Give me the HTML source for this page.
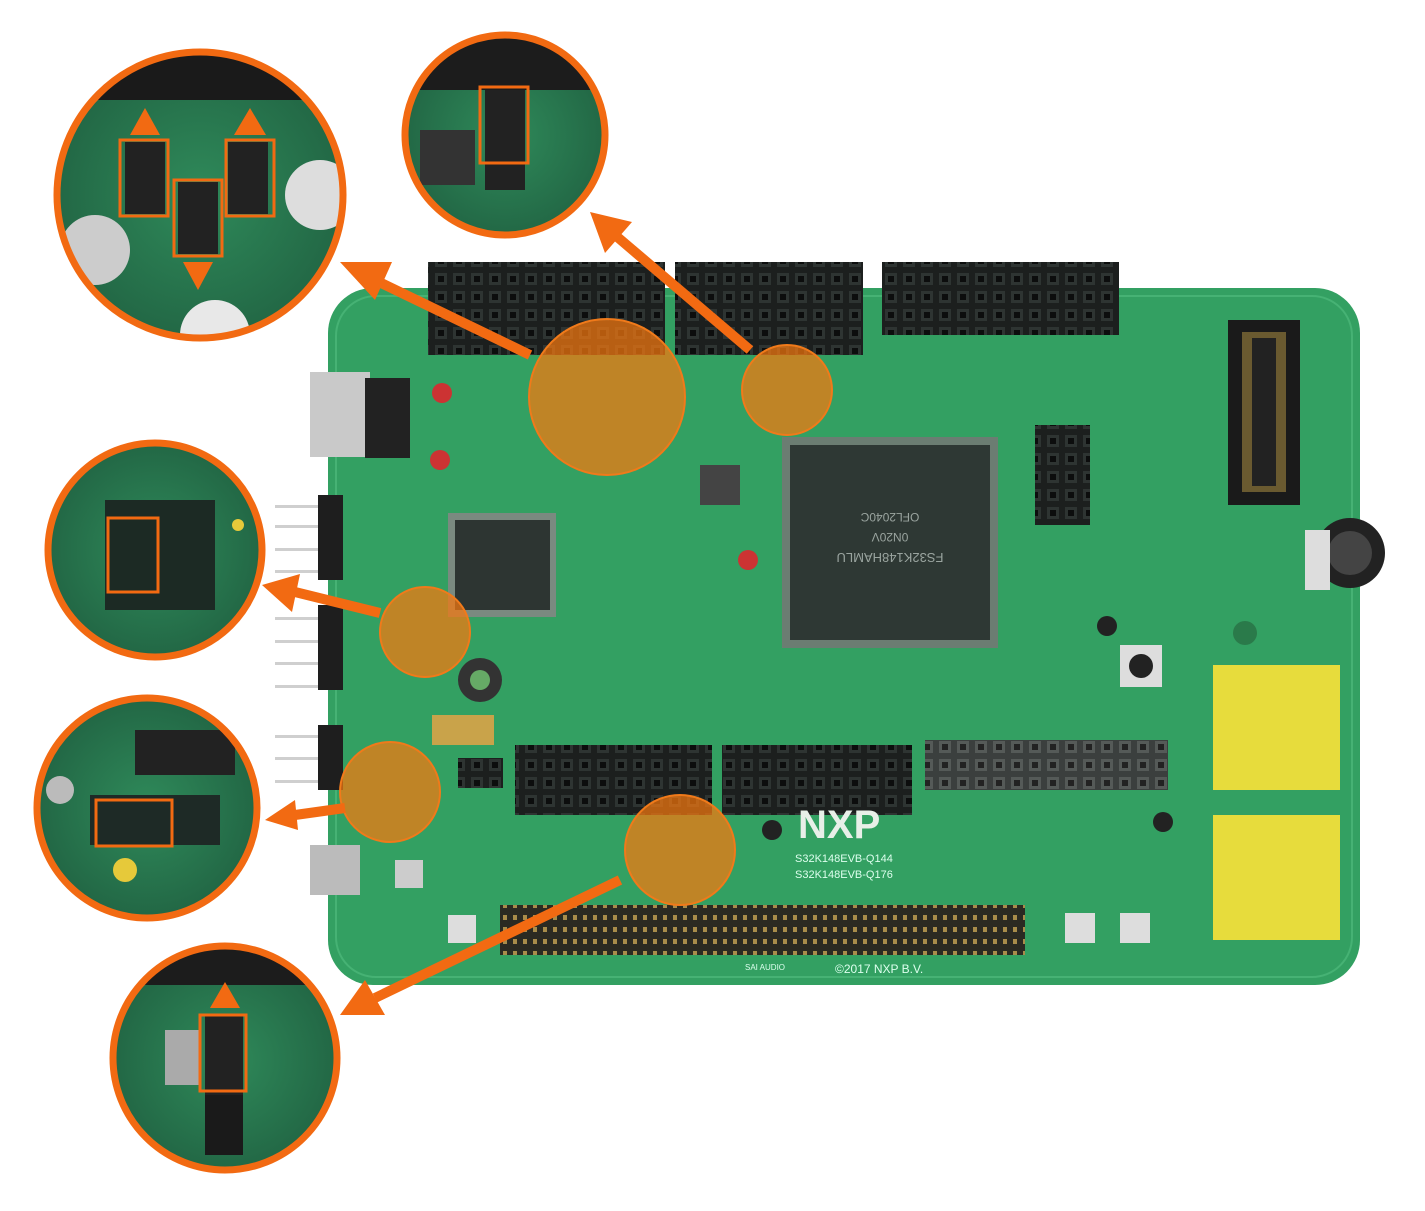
<!DOCTYPE html>
<html><head><meta charset="utf-8"><style>
html,body{margin:0;padding:0;background:#fff;}
svg{display:block;}
text{font-family:"Liberation Sans",sans-serif;}
</style></head><body>
<svg width="1425" height="1211" viewBox="0 0 1425 1211" xmlns="http://www.w3.org/2000/svg">
<defs>
<pattern id="pins" width="18" height="18" patternUnits="userSpaceOnUse">
<rect width="18" height="18" fill="#1c1f1e"/><rect x="3" y="3" width="12" height="12" fill="#2e3432"/><rect x="6" y="6" width="6" height="6" fill="#0c0d0d"/></pattern>
<pattern id="gpins" width="18" height="18" patternUnits="userSpaceOnUse">
<rect width="18" height="18" fill="#3b3f3e"/><rect x="3" y="3" width="12" height="12" fill="#555a58"/><rect x="6" y="6" width="6" height="6" fill="#222"/></pattern>
<pattern id="hdr" width="10" height="24" patternUnits="userSpaceOnUse">
<rect width="10" height="24" fill="#2b2a22"/><rect x="3" y="3" width="4" height="5" fill="#a88c4a"/><rect x="3" y="15" width="4" height="5" fill="#a88c4a"/></pattern>
<radialGradient id="zg" cx="50%" cy="50%" r="60%"><stop offset="0" stop-color="#2f8a5a"/><stop offset="1" stop-color="#1f5f40"/></radialGradient>
<clipPath id="c1"><circle cx="200" cy="195" r="143"/></clipPath>
<clipPath id="c2"><circle cx="505" cy="135" r="100"/></clipPath>
<clipPath id="c3"><circle cx="155" cy="550" r="107"/></clipPath>
<clipPath id="c4"><circle cx="147" cy="808" r="110"/></clipPath>
<clipPath id="c5"><circle cx="225" cy="1058" r="112"/></clipPath>
</defs>

<rect x="328" y="288" width="1032" height="697" rx="45" fill="#33a062"/>
<rect x="336" y="296" width="1016" height="681" rx="40" fill="none" stroke="#46b274" stroke-width="2"/>
<rect x="428" y="262" width="237" height="93" fill="url(#pins)"/>
<rect x="675" y="262" width="188" height="93" fill="url(#pins)"/>
<rect x="882" y="262" width="237" height="73" fill="url(#pins)"/>
<rect x="515" y="745" width="197" height="70" fill="url(#pins)"/>
<rect x="722" y="745" width="190" height="70" fill="url(#pins)"/>
<rect x="925" y="740" width="243" height="50" fill="url(#gpins)"/>
<rect x="500" y="905" width="525" height="50" fill="url(#hdr)"/>
<rect x="782" y="437" width="216" height="211" fill="#6b7d72"/>
<rect x="790" y="445" width="200" height="195" fill="#2e3834"/>
<g transform="rotate(180 890 525)" fill="#9aa49f" text-anchor="middle">
<text x="890" y="497" font-size="13">FS32K148HAMLU</text>
<text x="890" y="517" font-size="12">0N20V</text>
<text x="890" y="537" font-size="12">OFL2040C</text></g>
<rect x="448" y="513" width="108" height="104" fill="#7a8a80"/>
<rect x="455" y="520" width="95" height="90" fill="#2d3532"/>
<rect x="1228" y="320" width="72" height="185" fill="#1a1a1a"/>
<rect x="1242" y="332" width="44" height="160" fill="#6a5a30"/>
<rect x="1252" y="338" width="24" height="148" fill="#222"/>
<rect x="1035" y="425" width="55" height="100" fill="url(#pins)"/>
<circle cx="1350" cy="553" r="35" fill="#222"/><circle cx="1350" cy="553" r="22" fill="#444"/>
<rect x="1305" y="530" width="25" height="60" fill="#ddd"/>
<rect x="1213" y="665" width="127" height="125" fill="#e7dc3c"/>
<rect x="1213" y="815" width="127" height="125" fill="#e7dc3c"/>
<rect x="1120" y="645" width="42" height="42" fill="#ddd"/><circle cx="1141" cy="666" r="12" fill="#222"/>
<rect x="700" y="465" width="40" height="40" fill="#444"/>
<circle cx="480" cy="680" r="22" fill="#333"/><circle cx="480" cy="680" r="10" fill="#6a6"/>
<rect x="395" y="860" width="28" height="28" fill="#ccc"/><rect x="448" y="915" width="28" height="28" fill="#ddd"/>
<rect x="1065" y="913" width="30" height="30" fill="#ddd"/><rect x="1120" y="913" width="30" height="30" fill="#ddd"/>
<rect x="432" y="715" width="62" height="30" fill="#c9a34a"/>
<rect x="458" y="758" width="45" height="30" fill="url(#pins)"/>
<circle cx="440" cy="460" r="10" fill="#c33"/><circle cx="442" cy="393" r="10" fill="#c33"/>
<circle cx="748" cy="560" r="10" fill="#c33"/>
<circle cx="1107" cy="626" r="10" fill="#222"/><circle cx="1163" cy="822" r="10" fill="#222"/><circle cx="772" cy="830" r="10" fill="#222"/>
<circle cx="1245" cy="633" r="12" fill="#2a7a4a"/>
<rect x="310" y="372" width="60" height="85" fill="#c9c9c9"/>
<rect x="365" y="378" width="45" height="80" fill="#222"/>
<rect x="310" y="845" width="50" height="50" fill="#bbb"/>
<g fill="#cfcfcf">
<rect x="275" y="505" width="45" height="3"/><rect x="275" y="525" width="45" height="3"/><rect x="275" y="548" width="45" height="3"/><rect x="275" y="570" width="45" height="3"/>
<rect x="275" y="617" width="45" height="3"/><rect x="275" y="640" width="45" height="3"/><rect x="275" y="662" width="45" height="3"/><rect x="275" y="685" width="45" height="3"/>
<rect x="275" y="735" width="45" height="3"/><rect x="275" y="757" width="45" height="3"/><rect x="275" y="780" width="45" height="3"/></g>
<rect x="318" y="495" width="25" height="85" fill="#1e1e1e"/>
<rect x="318" y="605" width="25" height="85" fill="#1e1e1e"/>
<rect x="318" y="725" width="25" height="65" fill="#1e1e1e"/>
<text x="798" y="838" fill="#e8efe8" font-size="40" font-weight="bold">NXP</text>
<text x="795" y="862" fill="#dfe" font-size="11">S32K148EVB-Q144</text>
<text x="795" y="878" fill="#dfe" font-size="11">S32K148EVB-Q176</text>
<text x="835" y="973" fill="#dfe" font-size="12">©2017 NXP B.V.</text>
<text x="745" y="970" fill="#dfe" font-size="8">SAI AUDIO</text>

<g fill="#f5780f" fill-opacity="0.72" stroke="#f07a1a" stroke-width="2">
<circle cx="607" cy="397" r="78"/><circle cx="787" cy="390" r="45"/><circle cx="425" cy="632" r="45"/>
<circle cx="390" cy="792" r="50"/><circle cx="680" cy="850" r="55"/></g>

<g stroke="#f26a12" stroke-width="10" fill="#f26a12">
<line x1="530" y1="355" x2="375" y2="280"/><line x1="750" y1="350" x2="615" y2="235"/>
<line x1="380" y1="613" x2="295" y2="592"/><line x1="345" y1="808" x2="295" y2="815"/>
<line x1="620" y1="880" x2="375" y2="998"/></g>
<g fill="#f26a12">
<polygon points="340,262 392,262 375,300"/>
<polygon points="590,212 632,222 605,253"/>
<polygon points="262,585 300,574 292,612"/>
<polygon points="265,820 295,800 298,830"/>
<polygon points="340,1015 365,980 385,1015"/></g>

<g clip-path="url(#c1)"><rect x="50" y="45" width="300" height="300" fill="url(#zg)"/>
<rect x="50" y="50" width="300" height="50" fill="#1a1a1a"/>
<circle cx="320" cy="195" r="35" fill="#ddd"/><circle cx="95" cy="250" r="35" fill="#ccc"/><circle cx="215" cy="335" r="35" fill="#e8e8e8"/>
<rect x="125" y="142" width="40" height="72" fill="#222"/><rect x="178" y="182" width="40" height="72" fill="#222"/><rect x="228" y="142" width="40" height="72" fill="#222"/></g>
<g fill="none" stroke="#f26a12" stroke-width="3"><rect x="120" y="140" width="48" height="76"/><rect x="174" y="180" width="48" height="76"/><rect x="226" y="140" width="48" height="76"/></g>
<g fill="#f26a12"><polygon points="130,135 160,135 145,108"/><polygon points="234,135 266,135 250,108"/><polygon points="183,262 213,262 198,290"/></g>
<circle cx="200" cy="195" r="143" fill="none" stroke="#f26a12" stroke-width="7"/>

<g clip-path="url(#c2)"><rect x="400" y="30" width="210" height="210" fill="url(#zg)"/>
<rect x="400" y="30" width="210" height="60" fill="#1c1c1c"/><rect x="420" y="130" width="55" height="55" fill="#333"/>
<rect x="485" y="90" width="40" height="100" fill="#222"/></g>
<rect x="480" y="87" width="48" height="76" fill="none" stroke="#f26a12" stroke-width="3"/>
<circle cx="505" cy="135" r="100" fill="none" stroke="#f26a12" stroke-width="7"/>

<g clip-path="url(#c3)"><rect x="45" y="440" width="220" height="220" fill="url(#zg)"/>
<rect x="105" y="500" width="110" height="110" fill="#1c2a24"/><circle cx="238" cy="525" r="6" fill="#e6c93a"/></g>
<rect x="108" y="518" width="50" height="74" fill="none" stroke="#f26a12" stroke-width="3"/>
<circle cx="155" cy="550" r="107" fill="none" stroke="#f26a12" stroke-width="7"/>

<g clip-path="url(#c4)"><rect x="35" y="695" width="225" height="225" fill="url(#zg)"/>
<rect x="135" y="730" width="100" height="45" fill="#222"/><rect x="90" y="795" width="130" height="50" fill="#1e2a26"/>
<circle cx="125" cy="870" r="12" fill="#e6c93a"/><circle cx="60" cy="790" r="14" fill="#bbb"/></g>
<rect x="96" y="800" width="76" height="46" fill="none" stroke="#f26a12" stroke-width="3"/>
<circle cx="147" cy="808" r="110" fill="none" stroke="#f26a12" stroke-width="7"/>

<g clip-path="url(#c5)"><rect x="110" y="945" width="230" height="230" fill="url(#zg)"/>
<rect x="110" y="945" width="230" height="40" fill="#1c1c1c"/><rect x="165" y="1030" width="35" height="55" fill="#aaa"/>
<rect x="205" y="1015" width="38" height="80" fill="#222"/><rect x="205" y="1095" width="38" height="60" fill="#1a1a1a"/></g>
<rect x="200" y="1015" width="46" height="76" fill="none" stroke="#f26a12" stroke-width="3"/>
<polygon points="210,1008 240,1008 225,982" fill="#f26a12"/>
<circle cx="225" cy="1058" r="112" fill="none" stroke="#f26a12" stroke-width="7"/>
</svg>
</body></html>
